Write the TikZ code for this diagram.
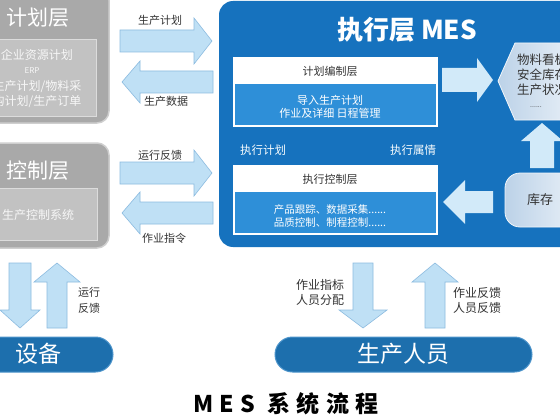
\documentclass[tikz,border=0pt]{standalone}
\usepackage{fontspec}
\setmainfont{Noto Sans CJK SC}
\usetikzlibrary{shapes.geometric}
\definecolor{mesblue}{HTML}{1672BE}
\definecolor{innerblue}{HTML}{2E8FD8}
\definecolor{arrfill}{HTML}{BFE0F5}
\definecolor{arrline}{HTML}{8DBCE0}
\definecolor{arrin}{HTML}{D2EAF9}
\definecolor{grayout}{HTML}{A9A9A9}
\definecolor{graybd}{HTML}{CFCFCF}
\definecolor{grayin}{HTML}{C2C2C2}
\definecolor{grayinbd}{HTML}{DCDCDC}
\definecolor{pill}{HTML}{1D6FAD}
\definecolor{pillbd}{HTML}{4E95CB}
\definecolor{darktext}{HTML}{333333}
\definecolor{silverL}{HTML}{BCD2E8}
\definecolor{silverR}{HTML}{F6F9FC}
\newcommand\blkarrow[8]{\begin{scope}[shift={(#2,#3)},rotate=#4]
\path[#1] (0,-#6) -- ({#5-#8},-#6) -- ({#5-#8},-#7) -- (#5,0) -- ({#5-#8},#7) -- ({#5-#8},#6) -- (0,#6) -- cycle;
\end{scope}}
\tikzset{
  outarrow/.style={fill=arrfill,draw=arrline,line width=0.6pt},
  inarrow/.style={fill=arrin},
  graytitle/.style={text=white,font=\fontsize{21}{25}\selectfont},
  graytext/.style={text=white!94!gray,font=\fontsize{12}{15}\selectfont,align=center},
  lbl/.style={text=darktext,font=\fontsize{11}{16}\selectfont,align=center},
  mlbl/.style={text=white!85!arrin,font=\fontsize{11.5}{14}\selectfont},
  hdr/.style={text=darktext,font=\fontsize{11}{13}\selectfont},
  intext/.style={text=white,font=\fontsize{11}{13.5}\selectfont,align=center},
  silver/.style={left color=silverL,right color=silverR,draw=white!80!silverL,line width=0.8pt},
  pillbox/.style={fill=pill,draw=pillbd,line width=1pt,rounded corners=17.5pt},
  pilltext/.style={text=white,font=\fontsize{23}{27}\selectfont}
}
\begin{document}
\begin{tikzpicture}[x=1pt,y=-1pt]
\useasboundingbox (0,0) rectangle (560,420);
\fill[white] (0,0) rectangle (560,420);
\clip (0,0) rectangle (560,420);

% left gray boxes
\path[fill=grayout,draw=graybd,line width=1.5pt,rounded corners=12pt] (-20,-12) rectangle (109,123);
\path[fill=grayin,draw=grayinbd,line width=1pt] (-20,40) rectangle (96,116);
\node[graytitle] (plan) at (38,18) {计划层};
\node[graytext] (erp1) at (37,55) {企业资源计划};
\node[text=white!94!gray,font=\fontsize{8}{9}\selectfont\itshape] (erp2) at (32,71) {ERP};
\node[graytext] (erp3) at (37,94.5) {生产计划/物料采\\购计划/生产订单};

\path[fill=grayout,draw=graybd,line width=1.5pt,rounded corners=12pt] (-20,143) rectangle (109,248);
\path[fill=grayin,draw=grayinbd,line width=1pt] (-20,188) rectangle (97,240);
\node[graytitle] (ctrl) at (38,171) {控制层};
\node[graytext] (pcs) at (38,215) {生产控制系统};

% arrows between left boxes and MES
\blkarrow{outarrow}{120}{41}{0}{92}{11}{23}{18}
\blkarrow{outarrow}{213}{82}{180}{91}{11}{21}{18}
\blkarrow{outarrow}{120}{173}{0}{92}{11}{23}{18}
\blkarrow{outarrow}{213}{213}{180}{91}{11}{21}{18}
\node[lbl] (l1) at (160,20) {生产计划};
\node[lbl] (l2) at (166,101) {生产数据};
\node[lbl] (l3) at (160,155) {运行反馈};
\node[lbl] (l4) at (164,238) {作业指令};

% MES box
\path[fill=mesblue,rounded corners=14pt] (219,1) rectangle (600,247);
\node[text=white,font=\fontsize{26}{30}\selectfont\bfseries] (mes) at (407,30) {执行层 MES};

\path[fill=white] (233,57) rectangle (438,127);
\path[fill=innerblue] (235,84) rectangle (436,125);
\node[hdr] (plh) at (330,71) {计划编制层};
\node[intext] (plt) at (330,107) {导入生产计划\\作业及详细 日程管理};

\path[fill=white] (233,165) rectangle (438,235);
\path[fill=innerblue] (235,192) rectangle (436,233);
\node[hdr] (exh) at (330,179) {执行控制层};
\node[intext,font=\fontsize{10.5}{13}\selectfont] (ext) at (330,215.5) {产品跟踪、数据采集......\\品质控制、制程控制......};

\node[mlbl] (ep) at (263,150) {执行计划};
\node[mlbl] (ef) at (413,150) {执行属情};

% hexagon and stock
\path[silver] (498,81) -- (515,43) -- (600,43) -- (600,120) -- (515,120) -- cycle;
\node[anchor=north west,text=darktext,font=\fontsize{12.5}{15}\selectfont,align=left,inner sep=0pt] (hex) at (517,54) {物料看板\\安全库存\\生产状况\\[-2pt]\hspace*{13pt}{\fontsize{7}{8}\selectfont ......}};
\path[silver,rounded corners=15pt] (505,173) rectangle (600,227);
\node[text=darktext,font=\fontsize{13}{15}\selectfont] (stock) at (540,200) {库存};

\blkarrow{inarrow}{442}{80}{0}{51}{12}{22}{16}
\blkarrow{inarrow}{493}{202}{180}{50}{11}{22}{22}
\blkarrow{inarrow}{542}{168}{90}{45}{12}{21}{18}

% bottom
\blkarrow{outarrow}{20}{263}{-90}{65}{11}{20}{18}
\blkarrow{outarrow}{57}{328}{90}{65}{10}{23}{19}
\blkarrow{outarrow}{363}{263}{-90}{65}{10}{24}{18}
\blkarrow{outarrow}{435}{328}{90}{65}{10}{23}{19}
\node[lbl,anchor=east] (b1) at (4,292) {作业\\指令};
\node[lbl] (b2) at (89,300) {运行\\反馈};
\node[lbl,font=\fontsize{12}{15}\selectfont] (b3) at (320,292.5) {作业指标\\人员分配};
\node[lbl,font=\fontsize{12}{15}\selectfont] (b4) at (477,300) {作业反馈\\人员反馈};

\path[pillbox] (-40,337) rectangle (113,372);
\node[pilltext] (dev) at (39,354) {设备};
\path[pillbox] (275,337) rectangle (532,372);
\node[pilltext] (staff) at (403,354) {生产人员};

\node[text=black,font=\fontsize{23}{27}\selectfont\bfseries\addfontfeature{LetterSpace=28}] (ttl) at (286,404) {MES 系统流程};
\end{tikzpicture}
\end{document}
